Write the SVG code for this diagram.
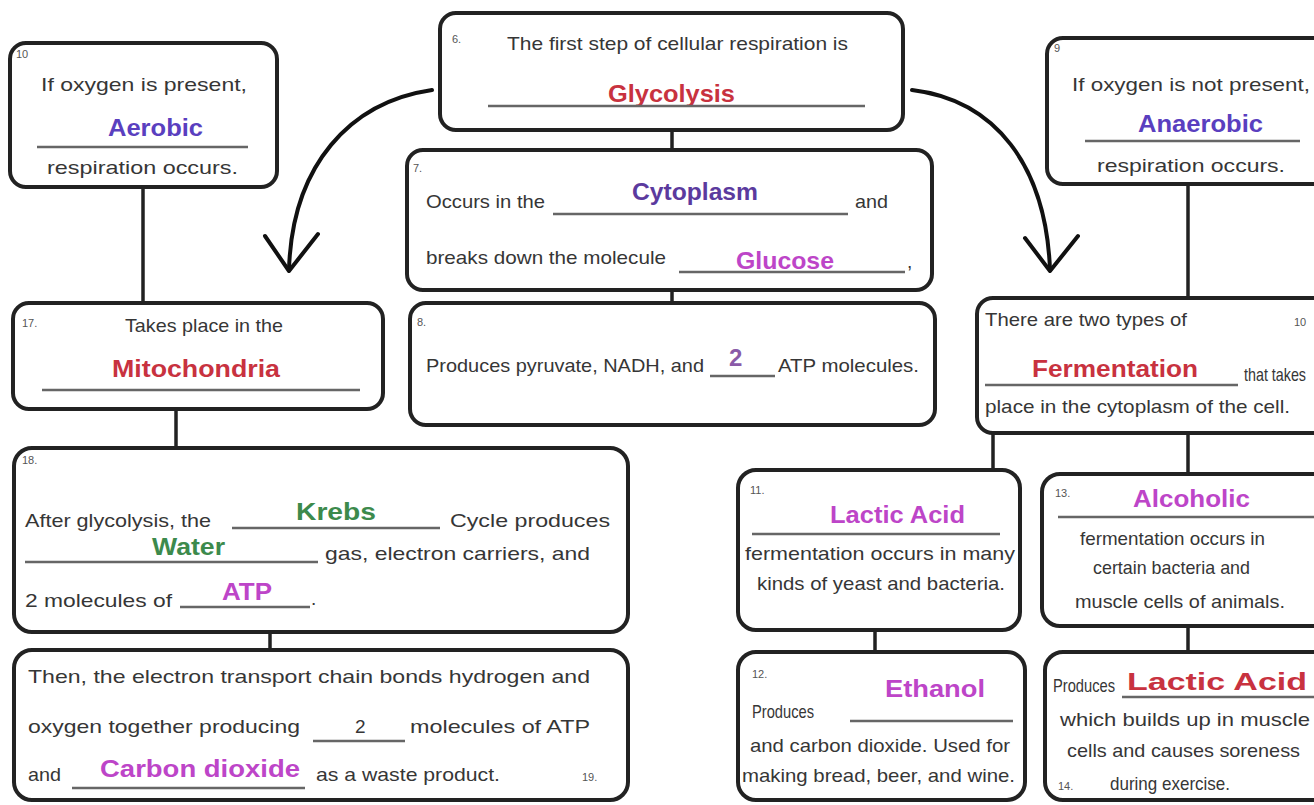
<svg xmlns="http://www.w3.org/2000/svg" width="1314" height="805" viewBox="0 0 1314 805">
<style>
.box{fill:#fff;stroke:#222;stroke-width:4}
.t{font-family:"Liberation Sans Narrow","Liberation Sans",Arial,sans-serif;font-size:19px;fill:#363636}
.n{font-family:"Liberation Sans Narrow","Liberation Sans",Arial,sans-serif;font-size:11px;fill:#555}
.a{font-family:"Liberation Sans","Liberation Sans Narrow",Arial,sans-serif;font-size:24px;font-weight:bold}
.ul{stroke:#666;stroke-width:2.5}
.con{stroke:#222;stroke-width:3.5;fill:none}
.arr{stroke:#111;stroke-width:4;fill:none;stroke-linecap:round;stroke-linejoin:round}
.purple{fill:#5a3fbf}.red{fill:#c8323f}.mag{fill:#bd45c8}.green{fill:#3c8a4c}.dpurple{fill:#5b3a9e}
</style>
<rect width="1314" height="805" fill="#fff"/>
<g id="connectors">
<line class="con" x1="143" y1="187" x2="143" y2="303"/>
<line class="con" x1="672" y1="130" x2="672" y2="150"/>
<line class="con" x1="672" y1="290" x2="672" y2="303"/>
<line class="con" x1="1188" y1="184" x2="1188" y2="298"/>
<line class="con" x1="176" y1="409" x2="176" y2="448"/>
<line class="con" x1="270" y1="632" x2="270" y2="650"/>
<line class="con" x1="993" y1="433" x2="993" y2="470"/>
<line class="con" x1="1188" y1="433" x2="1188" y2="474"/>
<line class="con" x1="875" y1="630" x2="875" y2="652"/>
<line class="con" x1="1188" y1="626" x2="1188" y2="652"/>
<path class="arr" d="M432,90 C350,102 292,165 289,270"/>
<path class="arr" d="M265,236 L289,271 L318,234"/>
<path class="arr" d="M912,90 C995,100 1046,165 1050,270"/>
<path class="arr" d="M1025,238 L1050,271 L1078,236"/>
</g>
<g id="n10">
<rect class="box" x="10" y="43" width="267" height="144" rx="16"/>
<text class="n" x="16" y="58" font-size="9">10</text>
<text class="t" x="41" y="91" font-size="20" textLength="206" lengthAdjust="spacingAndGlyphs">If oxygen is present,</text>
<text class="a purple" x="108" y="136" textLength="95" lengthAdjust="spacingAndGlyphs">Aerobic</text>
<line class="ul" x1="37" y1="147" x2="248" y2="147"/>
<text class="t" x="47" y="174" textLength="191" lengthAdjust="spacingAndGlyphs">respiration occurs.</text>
</g>
<g id="n6">
<rect class="box" x="440" y="13" width="463" height="117" rx="16"/>
<text class="n" x="452" y="43">6.</text>
<text class="t" x="507" y="50" textLength="341" lengthAdjust="spacingAndGlyphs">The first step of cellular respiration is</text>
<text class="a red" x="608" y="102" textLength="127" lengthAdjust="spacingAndGlyphs">Glycolysis</text>
<line class="ul" x1="488" y1="106" x2="865" y2="106"/>
</g>
<g id="n7">
<rect class="box" x="407" y="150" width="525" height="140" rx="16"/>
<text class="n" x="413" y="172">7.</text>
<text class="t" x="426" y="208" textLength="119" lengthAdjust="spacingAndGlyphs">Occurs in the</text>
<text class="a dpurple" x="632" y="200" font-size="25" textLength="126" lengthAdjust="spacingAndGlyphs">Cytoplasm</text>
<line class="ul" x1="553" y1="214" x2="848" y2="214"/>
<text class="t" x="855" y="208" textLength="33" lengthAdjust="spacingAndGlyphs">and</text>
<text class="t" x="426" y="264" textLength="240" lengthAdjust="spacingAndGlyphs">breaks down the molecule</text>
<text class="a mag" x="736" y="269" font-size="22" textLength="98" lengthAdjust="spacingAndGlyphs">Glucose</text>
<line class="ul" x1="679" y1="272" x2="905" y2="272"/>
<text class="t" x="907" y="268">,</text>
</g>
<g id="n8">
<rect class="box" x="410" y="303" width="525" height="122" rx="16"/>
<text class="n" x="417" y="326">8.</text>
<text class="t" x="426" y="372" textLength="278" lengthAdjust="spacingAndGlyphs">Produces pyruvate, NADH, and</text>
<text class="a" x="729" y="366" font-size="22" fill="#8a5aa8">2</text>
<line class="ul" x1="710" y1="376" x2="775" y2="376"/>
<text class="t" x="778" y="372" textLength="141" lengthAdjust="spacingAndGlyphs">ATP molecules.</text>
</g>
<g id="n9">
<rect class="box" x="1047" y="38" width="300" height="146" rx="16"/>
<text class="n" x="1054" y="52" font-size="9">9</text>
<text class="t" x="1072" y="91" font-size="20" textLength="238" lengthAdjust="spacingAndGlyphs">If oxygen is not present,</text>
<text class="a purple" x="1138" y="132" font-size="25" textLength="125" lengthAdjust="spacingAndGlyphs">Anaerobic</text>
<line class="ul" x1="1085" y1="141" x2="1300" y2="141"/>
<text class="t" x="1097" y="172" textLength="188" lengthAdjust="spacingAndGlyphs">respiration occurs.</text>
</g>
<g id="n17">
<rect class="box" x="13" y="303" width="370" height="106" rx="16"/>
<text class="n" x="22" y="327">17.</text>
<text class="t" x="125" y="332" textLength="158" lengthAdjust="spacingAndGlyphs">Takes place in the</text>
<text class="a red" x="112" y="377" font-size="25" textLength="168" lengthAdjust="spacingAndGlyphs">Mitochondria</text>
<line class="ul" x1="42" y1="390" x2="360" y2="390"/>
</g>
<g id="n10b">
<rect class="box" x="977" y="298" width="360" height="135" rx="16"/>
<text class="t" x="985" y="326" textLength="202" lengthAdjust="spacingAndGlyphs">There are two types of</text>
<text class="n" x="1294" y="326">10</text>
<text class="a red" x="1032" y="377" font-size="24" textLength="166" lengthAdjust="spacingAndGlyphs">Fermentation</text>
<line class="ul" x1="985" y1="385" x2="1238" y2="385"/>
<text class="t" x="1244" y="381" font-size="15" textLength="62" lengthAdjust="spacingAndGlyphs">that takes</text>
<text class="t" x="985" y="413" textLength="305" lengthAdjust="spacingAndGlyphs">place in the cytoplasm of the cell.</text>
</g>
<g id="n18">
<rect class="box" x="14" y="448" width="614" height="184" rx="18"/>
<text class="n" x="22" y="464">18.</text>
<text class="t" x="25" y="527" textLength="186" lengthAdjust="spacingAndGlyphs">After glycolysis, the</text>
<text class="a green" x="296" y="520" font-size="23" textLength="80" lengthAdjust="spacingAndGlyphs">Krebs</text>
<line class="ul" x1="232" y1="528" x2="440" y2="528"/>
<text class="t" x="450" y="527" textLength="160" lengthAdjust="spacingAndGlyphs">Cycle produces</text>
<text class="a green" x="152" y="555" font-size="23" textLength="73" lengthAdjust="spacingAndGlyphs">Water</text>
<line class="ul" x1="25" y1="562" x2="318" y2="562"/>
<text class="t" x="325" y="560" textLength="265" lengthAdjust="spacingAndGlyphs">gas, electron carriers, and</text>
<text class="t" x="25" y="607" textLength="147" lengthAdjust="spacingAndGlyphs">2 molecules of</text>
<text class="a mag" x="222" y="600" font-size="22" textLength="50" lengthAdjust="spacingAndGlyphs">ATP</text>
<line class="ul" x1="180" y1="607" x2="310" y2="607"/>
<text class="t" x="311" y="605">.</text>
</g>
<g id="n19">
<rect class="box" x="14" y="650" width="614" height="150" rx="18"/>
<text class="t" x="28" y="683" textLength="562" lengthAdjust="spacingAndGlyphs">Then, the electron transport chain bonds hydrogen and</text>
<text class="t" x="28" y="733" textLength="272" lengthAdjust="spacingAndGlyphs">oxygen together producing</text>
<line class="ul" x1="313" y1="741" x2="405" y2="741"/>
<text class="t" x="355" y="733" font-size="20">2</text>
<text class="t" x="410" y="733" textLength="180" lengthAdjust="spacingAndGlyphs">molecules of ATP</text>
<text class="t" x="28" y="781" textLength="33" lengthAdjust="spacingAndGlyphs">and</text>
<text class="a mag" x="100" y="777" font-size="22" textLength="200" lengthAdjust="spacingAndGlyphs">Carbon dioxide</text>
<line class="ul" x1="72" y1="788" x2="305" y2="788"/>
<text class="t" x="316" y="781" textLength="184" lengthAdjust="spacingAndGlyphs">as a waste product.</text>
<text class="n" x="582" y="781">19.</text>
</g>
<g id="n11">
<rect class="box" x="738" y="470" width="282" height="160" rx="18"/>
<text class="n" x="750" y="494">11.</text>
<text class="a mag" x="830" y="523" font-size="24" textLength="135" lengthAdjust="spacingAndGlyphs">Lactic Acid</text>
<line class="ul" x1="752" y1="534" x2="1000" y2="534"/>
<text class="t" x="745" y="560" textLength="270" lengthAdjust="spacingAndGlyphs">fermentation occurs in many</text>
<text class="t" x="757" y="590" textLength="248" lengthAdjust="spacingAndGlyphs">kinds of  yeast and bacteria.</text>
</g>
<g id="n13">
<rect class="box" x="1042" y="474" width="300" height="152" rx="18"/>
<text class="n" x="1055" y="497">13.</text>
<text class="a mag" x="1133" y="507" font-size="25" textLength="117" lengthAdjust="spacingAndGlyphs">Alcoholic</text>
<line class="ul" x1="1058" y1="517" x2="1314" y2="517"/>
<text class="t" x="1080" y="545" textLength="185" lengthAdjust="spacingAndGlyphs">fermentation occurs in</text>
<text class="t" x="1093" y="574" textLength="157" lengthAdjust="spacingAndGlyphs">certain bacteria and</text>
<text class="t" x="1075" y="608" textLength="210" lengthAdjust="spacingAndGlyphs">muscle cells of animals.</text>
</g>
<g id="n12">
<rect class="box" x="738" y="652" width="287" height="148" rx="18"/>
<text class="n" x="752" y="678">12.</text>
<text class="a mag" x="885" y="697" font-size="24" textLength="100" lengthAdjust="spacingAndGlyphs">Ethanol</text>
<text class="t" x="752" y="718" textLength="62" lengthAdjust="spacingAndGlyphs">Produces</text>
<line class="ul" x1="850" y1="721" x2="1013" y2="721"/>
<text class="t" x="750" y="752" textLength="260" lengthAdjust="spacingAndGlyphs">and carbon dioxide. Used for</text>
<text class="t" x="742" y="782" textLength="273" lengthAdjust="spacingAndGlyphs">making bread, beer, and wine.</text>
</g>
<g id="n14">
<rect class="box" x="1045" y="652" width="300" height="148" rx="18"/>
<text class="t" x="1053" y="692" textLength="62" lengthAdjust="spacingAndGlyphs">Produces</text>
<text class="a red" x="1127" y="690" font-size="25" textLength="180" lengthAdjust="spacingAndGlyphs">Lactic Acid</text>
<line class="ul" x1="1122" y1="697" x2="1314" y2="697"/>
<text class="t" x="1060" y="726" textLength="250" lengthAdjust="spacingAndGlyphs">which builds up in muscle</text>
<text class="t" x="1067" y="757" textLength="233" lengthAdjust="spacingAndGlyphs">cells and causes soreness</text>
<text class="n" x="1058" y="790">14.</text>
<text class="t" x="1110" y="790" textLength="120" lengthAdjust="spacingAndGlyphs">during exercise.</text>
</g>
</svg>
